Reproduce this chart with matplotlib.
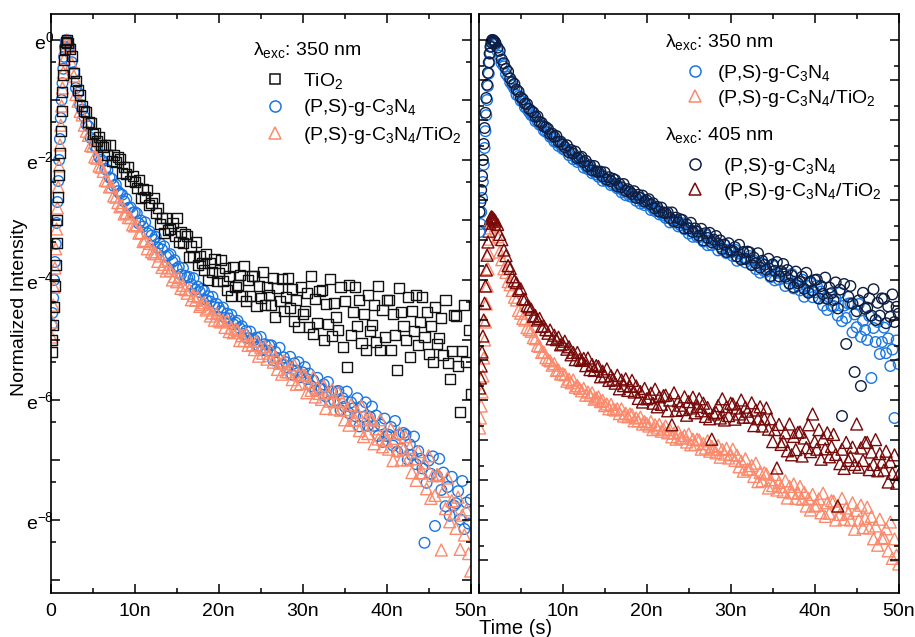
import numpy as np
import matplotlib
matplotlib.use('Agg')
import matplotlib.pyplot as plt
from matplotlib.lines import Line2D
from matplotlib.ticker import NullFormatter

plt.rcParams['font.family'] = ['Liberation Sans', 'DejaVu Sans']
plt.rcParams['mathtext.default'] = 'regular'

# time bins in ns: 0.1 ns over the rise, 0.25 ns afterwards
time_ns = np.round(np.concatenate([np.arange(1, 21) * 0.1,
                                   2.0 + np.arange(1, 193) * 0.25]), 2)

# values below are ln(normalized intensity)
# ---- left panel, lambda_exc = 350 nm
tio2_350 = [
    -5.2, -5.0, -4.75, -4.45, -4.1, -3.75, -3.38, -3.0, -2.62, -2.25,
    -1.88, -1.52, -1.18, -0.86, -0.58, -0.34, -0.15, -0.04, 0.0, -0.05,
    -0.15, -0.26, -0.55, -0.68, -0.84, -0.91, -1.10, -1.18,
    -1.20, -1.36, -1.39, -1.56, -1.55, -1.68, -1.62, -1.75,
    -1.78, -1.75, -1.91, -1.75, -2.02, -1.91, -2.04, -1.95,
    -1.99, -2.21, -2.12, -2.24, -2.11, -2.35, -2.27, -2.36,
    -2.47, -2.33, -2.63, -2.48, -2.61, -2.50, -2.75, -2.71,
    -2.63, -2.88, -2.80, -3.07, -2.97, -3.21, -2.97, -3.16,
    -3.15, -3.05, -3.27, -2.97, -3.36, -3.20, -3.39, -3.24,
    -3.27, -3.62, -3.44, -3.61, -3.37, -3.75, -3.60, -3.72,
    -3.84, -3.57, -4.00, -3.71, -3.87, -3.65, -4.01, -3.88,
    -3.66, -4.01, -3.80, -4.17, -3.93, -4.26, -3.79, -4.11,
    -4.08, -3.91, -4.26, -3.76, -4.35, -4.00, -4.26, -3.94,
    -3.94, -4.44, -4.10, -4.30, -3.86, -4.42, -4.11, -4.25,
    -4.41, -3.97, -4.61, -4.13, -4.35, -3.99, -4.52, -4.29,
    -3.97, -4.46, -4.15, -4.68, -4.33, -4.78, -4.11, -4.56,
    -4.51, -4.22, -4.78, -3.94, -4.90, -4.31, -4.72, -4.18,
    -4.16, -5.00, -4.40, -4.74, -3.98, -4.93, -4.39, -4.61,
    -4.84, -4.12, -5.12, -4.35, -5.45, -4.09, -4.92, -4.54,
    -4.11, -4.77, -4.34, -5.05, -4.57, -5.17, -4.25, -4.85,
    -4.75, -4.42, -5.04, -4.10, -5.16, -4.50, -4.95, -4.34,
    -4.34, -5.17, -4.57, -4.91, -5.5, -4.14, -4.54, -4.77,
    -5.0, -4.28, -5.28, -4.52, -4.85, -4.25, -5.08, -4.70,
    -4.29, -4.95, -4.53, -5.24, -4.76, -5.37, -4.45, -5.06,
    -4.96, -4.64, -5.25, -4.33, -5.38, -5.65, -5.19, -4.59,
    -4.6, -5.43, -6.2, -5.19, -4.42, -5.37, -4.83, -5.9,
]
psgcn_350_left = [
    -4.75, -4.55, -4.3, -4.0, -3.7, -3.4, -3.05, -2.7, -2.35, -2.0,
    -1.65, -1.3, -1.0, -0.72, -0.48, -0.28, -0.12, -0.03, 0.0, -0.04,
    -0.11, -0.37, -0.54, -0.80, -0.88, -1.08, -1.16, -1.28,
    -1.41, -1.44, -1.63, -1.66, -1.77, -1.80, -1.95, -2.0,
    -2.02, -2.15, -2.17, -2.29, -2.31, -2.43, -2.41, -2.52,
    -2.56, -2.58, -2.69, -2.65, -2.80, -2.79, -2.88, -2.87,
    -2.89, -3.06, -3.01, -3.11, -3.04, -3.22, -3.19, -3.26,
    -3.33, -3.28, -3.46, -3.39, -3.49, -3.44, -3.61, -3.59,
    -3.57, -3.70, -3.67, -3.81, -3.78, -3.91, -3.80, -3.93,
    -3.96, -3.95, -4.07, -3.97, -4.16, -4.11, -4.20, -4.15,
    -4.18, -4.33, -4.27, -4.36, -4.28, -4.45, -4.40, -4.46,
    -4.52, -4.46, -4.63, -4.56, -4.64, -4.58, -4.74, -4.71,
    -4.68, -4.80, -4.77, -4.90, -4.85, -4.97, -4.86, -4.98,
    -5.0, -4.96, -5.10, -4.95, -5.17, -5.07, -5.18, -5.09,
    -5.09, -5.34, -5.20, -5.31, -5.13, -5.41, -5.29, -5.37,
    -5.46, -5.28, -5.58, -5.39, -5.51, -5.37, -5.62, -5.54,
    -5.45, -5.65, -5.56, -5.77, -5.67, -5.85, -5.63, -5.81,
    -5.81, -5.74, -5.94, -5.70, -6.02, -5.86, -6.01, -5.86,
    -5.85, -6.17, -5.97, -6.11, -5.86, -6.22, -6.04, -6.14,
    -6.27, -5.97, -6.44, -6.11, -6.28, -6.04, -6.43, -6.28,
    -6.11, -6.43, -6.26, -6.60, -6.41, -6.70, -6.31, -6.60,
    -6.58, -6.45, -6.76, -6.35, -6.86, -6.58, -6.81, -6.55,
    -6.58, -6.99, -6.74, -6.92, -6.61, -7.07, -6.85, -6.98,
    -7.14, -8.38, -7.38, -7.01, -7.23, -6.94, -8.1, -7.27,
    -6.98, -7.50, -7.21, -7.77, -7.45, -7.93, -7.28, -7.76,
    -7.72, -7.52, -7.99, -7.35, -8.15, -7.71, -8.06, -7.66,
]
psgcn_tio2_350_left = [
    -4.95, -4.7, -4.42, -4.12, -3.8, -3.48, -3.15, -2.8, -2.45, -2.1,
    -1.75, -1.42, -1.1, -0.8, -0.54, -0.32, -0.14, -0.04, 0.0, -0.05,
    -0.11, -0.39, -0.60, -0.91, -1.02, -1.19, -1.25, -1.42,
    -1.52, -1.59, -1.76, -1.77, -1.95, -1.97, -2.10, -2.12,
    -2.19, -2.34, -2.35, -2.45, -2.44, -2.60, -2.62, -2.71,
    -2.78, -2.76, -2.90, -2.88, -2.96, -2.96, -3.08, -3.10,
    -3.08, -3.22, -3.21, -3.36, -3.34, -3.48, -3.39, -3.53,
    -3.56, -3.56, -3.69, -3.60, -3.79, -3.74, -3.85, -3.80,
    -3.84, -4.00, -3.94, -4.03, -3.96, -4.14, -4.09, -4.16,
    -4.22, -4.16, -4.33, -4.26, -4.34, -4.28, -4.44, -4.41,
    -4.38, -4.50, -4.47, -4.60, -4.55, -4.67, -4.56, -4.68,
    -4.70, -4.67, -4.79, -4.68, -4.86, -4.80, -4.88, -4.82,
    -4.84, -5.01, -4.93, -5.01, -4.90, -5.09, -5.02, -5.08,
    -5.16, -5.02, -5.27, -5.12, -5.22, -5.11, -5.32, -5.26,
    -5.17, -5.37, -5.28, -5.49, -5.39, -5.57, -5.35, -5.53,
    -5.53, -5.46, -5.66, -5.42, -5.74, -5.58, -5.73, -5.58,
    -5.59, -5.88, -5.71, -5.84, -5.62, -5.95, -5.80, -5.89,
    -5.99, -5.76, -6.14, -5.88, -6.02, -5.83, -6.15, -6.03,
    -5.88, -6.17, -6.02, -6.33, -6.16, -6.42, -6.08, -6.34,
    -6.33, -6.20, -6.51, -6.10, -6.61, -6.33, -6.56, -6.30,
    -6.33, -6.73, -6.48, -6.65, -6.33, -6.78, -6.56, -6.68,
    -6.82, -6.48, -7.01, -6.64, -6.84, -6.55, -7.00, -6.82,
    -6.61, -7.00, -6.79, -7.21, -6.98, -7.34, -6.86, -7.22,
    -7.21, -7.05, -7.48, -6.93, -7.64, -7.26, -7.59, -7.24,
    -7.26, -8.5, -7.52, -7.81, -7.3, -8.03, -7.68, -7.89,
    -8.14, -7.62, -8.49, -7.92, -8.25, -7.83, -8.56, -8.85,
]

# ---- right panel
psgcn_350_right = [
    -4.8, -4.6, -4.3, -3.95, -3.55, -3.12, -2.7, -2.28, -1.88, -1.5,
    -1.15, -0.84, -0.56, -0.33, -0.16, -0.05, 0.0, -0.02, -0.05, -0.12,
    -0.28, -0.39, -0.59, -0.66, -0.85, -0.92, -1.06, -1.13,
    -1.22, -1.37, -1.40, -1.52, -1.54, -1.68, -1.72, -1.80,
    -1.88, -1.90, -2.03, -2.03, -2.12, -2.14, -2.26, -2.30,
    -2.31, -2.42, -2.43, -2.54, -2.55, -2.65, -2.62, -2.72,
    -2.75, -2.76, -2.88, -2.81, -2.98, -2.94, -3.05, -3.01,
    -3.05, -3.19, -3.15, -3.23, -3.17, -3.33, -3.29, -3.36,
    -3.42, -3.36, -3.52, -3.46, -3.53, -3.49, -3.63, -3.61,
    -3.59, -3.71, -3.69, -3.81, -3.77, -3.88, -3.80, -3.91,
    -3.92, -3.91, -4.02, -3.93, -4.09, -4.04, -4.13, -4.08,
    -4.11, -4.25, -4.21, -4.28, -4.21, -4.36, -4.33, -4.39,
    -4.45, -4.39, -4.56, -4.48, -4.56, -4.50, -4.66, -4.63,
    -4.58, -4.73, -4.68, -4.84, -4.78, -4.92, -4.78, -4.92,
    -4.93, -4.89, -5.04, -4.87, -5.13, -5.01, -5.13, -5.03,
    -5.06, -5.26, -5.16, -5.25, -5.11, -5.33, -5.24, -5.31,
    -5.40, -5.24, -5.52, -5.34, -5.46, -5.32, -5.56, -5.49,
    -5.40, -5.61, -5.51, -5.73, -5.63, -5.82, -5.59, -5.78,
    -5.79, -5.70, -5.93, -5.64, -6.01, -5.82, -5.99, -5.81,
    -5.83, -6.15, -5.96, -6.10, -5.85, -6.21, -6.04, -6.14,
    -6.26, -5.99, -6.42, -6.14, -6.29, -6.08, -6.43, -6.31,
    -6.14, -6.47, -6.29, -6.64, -6.45, -6.75, -6.35, -6.65,
    -6.65, -6.47, -6.89, -6.32, -7.03, -6.64, -6.95, -6.59,
    -6.58, -7.31, -6.86, -7.18, -6.60, -7.42, -7.02, -7.25,
    -7.50, -6.90, -8.45, -7.20, -7.55, -7.05, -7.85, -7.55,
    -7.19, -7.83, -7.46, -8.15, -7.74, -9.45, -7.51, -8.10,
]
psgcn_tio2_350_right = [
    -9.7, -9.45, -9.15, -8.8, -8.4, -7.95, -7.5, -7.05, -6.6, -6.15,
    -5.72, -5.33, -4.98, -4.7, -4.52, -4.45, -4.47, -4.52, -4.58, -4.65,
    -4.92, -5.30, -5.49, -5.72, -5.81, -6.04, -6.12, -6.26,
    -6.43, -6.50, -6.76, -6.83, -6.96, -7.00, -7.19, -7.24,
    -7.28, -7.44, -7.47, -7.64, -7.66, -7.81, -7.80, -7.94,
    -7.99, -8.02, -8.13, -8.09, -8.26, -8.25, -8.35, -8.34,
    -8.37, -8.53, -8.48, -8.57, -8.50, -8.68, -8.64, -8.71,
    -8.77, -8.71, -8.88, -8.80, -8.88, -8.82, -8.98, -8.95,
    -8.92, -9.04, -9.01, -9.14, -9.10, -9.22, -9.11, -9.23,
    -9.25, -9.22, -9.34, -9.22, -9.40, -9.33, -9.42, -9.35,
    -9.37, -9.52, -9.45, -9.52, -9.43, -9.60, -9.54, -9.59,
    -9.65, -9.54, -9.74, -9.62, -9.70, -9.61, -9.78, -9.73,
    -9.65, -9.82, -9.74, -9.92, -9.83, -9.98, -9.80, -9.95,
    -9.95, -9.89, -10.05, -9.85, -10.12, -9.98, -10.11, -9.98,
    -10.0, -10.23, -10.09, -10.20, -10.02, -10.28, -10.16, -10.23,
    -10.32, -10.14, -10.43, -10.24, -10.35, -10.21, -10.45, -10.37,
    -10.23, -10.51, -10.38, -10.67, -10.53, -10.78, -10.47, -10.73,
    -10.73, -10.64, -10.91, -10.58, -11.04, -10.81, -11.02, -10.82,
    -10.85, -11.20, -10.99, -11.14, -10.86, -11.25, -11.06, -11.17,
    -11.29, -11.02, -11.45, -11.16, -11.32, -11.10, -11.46, -11.33,
    -11.16, -11.48, -11.31, -11.65, -11.46, -11.75, -11.36, -11.65,
    -11.63, -11.47, -11.82, -11.33, -11.91, -11.57, -11.83, -11.52,
    -11.53, -12.0, -11.67, -11.86, -11.46, -11.98, -11.70, -11.83,
    -12.0, -11.57, -12.23, -11.76, -12.0, -11.63, -12.19, -11.96,
    -11.68, -12.20, -11.91, -12.47, -12.15, -12.63, -11.98, -12.46,
    -12.44, -12.22, -12.77, -12.05, -12.96, -12.47, -12.88, -13.1,
]
psgcn_405_right = [
    -4.3, -4.05, -3.75, -3.4, -3.0, -2.6, -2.2, -1.82, -1.45, -1.12,
    -0.82, -0.56, -0.34, -0.17, -0.06, 0.0, -0.01, -0.03, -0.05, -0.08,
    -0.19, -0.27, -0.49, -0.58, -0.72, -0.79, -0.96, -1.05,
    -1.10, -1.24, -1.29, -1.43, -1.48, -1.59, -1.60, -1.72,
    -1.77, -1.81, -1.92, -1.91, -2.05, -2.07, -2.16, -2.18,
    -2.22, -2.35, -2.34, -2.42, -2.40, -2.54, -2.54, -2.61,
    -2.68, -2.63, -2.81, -2.75, -2.84, -2.79, -2.96, -2.94,
    -2.92, -3.05, -3.02, -3.16, -3.13, -3.26, -3.15, -3.28,
    -3.30, -3.29, -3.41, -3.31, -3.49, -3.43, -3.53, -3.47,
    -3.50, -3.66, -3.60, -3.68, -3.60, -3.77, -3.73, -3.79,
    -3.85, -3.78, -3.95, -3.87, -3.95, -3.89, -4.04, -4.01,
    -3.98, -4.11, -4.08, -4.21, -4.17, -4.29, -4.19, -4.31,
    -4.33, -4.31, -4.45, -4.31, -4.53, -4.44, -4.56, -4.48,
    -4.50, -4.71, -4.61, -4.71, -4.57, -4.80, -4.71, -4.79,
    -4.89, -4.72, -5.01, -4.83, -4.95, -4.82, -5.06, -4.99,
    -4.90, -5.10, -5.01, -5.22, -5.12, -5.30, -5.08, -5.26,
    -5.27, -5.18, -5.41, -5.12, -5.49, -5.30, -5.47, -5.29,
    -5.31, -5.63, -5.44, -5.58, -5.33, -5.69, -5.52, -5.62,
    -5.74, -5.47, -5.90, -5.61, -5.77, -5.55, -5.91, -5.78,
    -5.60, -5.92, -5.75, -6.09, -5.89, -6.18, -5.79, -6.08,
    -6.05, -5.92, -6.22, -5.82, -6.32, -6.04, -6.26, -6.0,
    -5.99, -6.46, -6.15, -6.35, -5.94, -6.47, -6.19, -6.33,
    -6.50, -6.06, -6.71, -6.24, -9.4, -6.10, -7.6, -6.42,
    -6.15, -6.59, -8.3, -6.78, -6.51, -8.65, -6.32, -6.72,
    -6.69, -6.46, -6.89, -6.23, -7.0, -6.57, -6.89, -6.46,
    -6.47, -7.08, -6.66, -6.92, -6.36, -7.05, -6.67, -6.84,
]
psgcn_tio2_405_right = [
    -8.7, -8.45, -8.15, -7.8, -7.4, -7.0, -6.58, -6.15, -5.75, -5.38,
    -5.05, -4.78, -4.58, -4.46, -4.42, -4.43, -4.45, -4.48, -4.5, -4.53,
    -4.61, -4.86, -4.99, -5.25, -5.39, -5.64, -5.71, -5.92,
    -6.02, -6.07, -6.26, -6.22, -6.47, -6.48, -6.64, -6.67,
    -6.73, -6.91, -6.89, -7.0, -6.96, -7.16, -7.15, -7.24,
    -7.33, -7.25, -7.47, -7.38, -7.49, -7.43, -7.62, -7.60,
    -7.53, -7.73, -7.67, -7.87, -7.81, -7.99, -7.81, -7.99,
    -8.01, -7.96, -8.14, -7.95, -8.24, -8.11, -8.26, -8.14,
    -8.16, -8.42, -8.28, -8.40, -8.22, -8.51, -8.39, -8.48,
    -8.58, -8.38, -8.72, -8.50, -8.64, -8.47, -8.76, -8.66,
    -8.51, -8.80, -8.65, -8.96, -8.79, -9.05, -8.71, -8.97,
    -8.94, -8.83, -9.08, -8.73, -9.17, -8.92, -9.11, -8.89,
    -8.88, -9.27, -9.0, -9.62, -8.82, -9.26, -9.02, -9.13,
    -9.24, -8.92, -9.38, -9.04, -9.20, -8.93, -9.32, -9.16,
    -8.97, -9.27, -9.08, -9.41, -9.19, -9.47, -9.98, -9.35,
    -9.31, -9.14, -9.45, -8.97, -9.50, -9.17, -9.39, -9.08,
    -9.10, -9.48, -9.20, -9.35, -9.0, -9.43, -9.18, -9.28,
    -9.43, -9.07, -9.64, -9.25, -9.47, -9.17, -9.65, -9.47,
    -9.20, -9.73, -9.47, -10.04, -9.74, -10.7, -9.61, -10.11,
    -10.04, -9.82, -10.27, -9.60, -10.37, -9.91, -10.24, -9.81,
    -9.80, -10.40, -9.95, -10.19, -9.62, -10.29, -9.35, -10.04,
    -10.23, -9.74, -10.48, -9.97, -10.22, -9.82, -10.42, -10.16,
    -9.86, -10.36, -11.65, -10.59, -10.23, -10.71, -10.06, -10.51,
    -10.42, -10.18, -10.61, -9.6, -10.68, -10.20, -10.51, -10.06,
    -10.06, -10.74, -10.30, -10.61, -9.99, -10.77, -10.34, -10.55,
    -10.75, -10.28, -11.05, -10.54, -10.83, -10.37, -11.08, -10.86,
]

x_ticks = [0, 10, 20, 30, 40, 50]
x_labels_left = ['0', '10n', '20n', '30n', '40n', '50n']
x_labels_right = ['', '10n', '20n', '30n', '40n', '50n']

c_black = '#111111'
c_blue = '#1a76e2'
c_salmon = '#fb8a6c'
c_navy = '#0e1e42'
c_maroon = '#780a0a'

W, H = 915, 637
fig = plt.figure(figsize=(W / 100, H / 100), dpi=100)
ax1 = fig.add_axes([50.7 / W, 1 - 593 / H, 420 / W, 579 / H])
ax2 = fig.add_axes([478.7 / W, 1 - 593 / H, 420 / W, 579 / H])

def draw(ax, y, marker, color, s):
    ax.scatter(time_ns, np.exp(y), marker=marker, s=s, facecolors='none',
               edgecolors=color, linewidths=1.0)

draw(ax1, psgcn_350_left, 'o', c_blue, 58)
draw(ax1, psgcn_tio2_350_left, '^', c_salmon, 74)
draw(ax1, tio2_350, 's', c_black, 52)

draw(ax2, psgcn_tio2_350_right, '^', c_salmon, 74)
draw(ax2, psgcn_tio2_405_right, '^', c_maroon, 74)
draw(ax2, psgcn_350_right, 'o', c_blue, 58)
draw(ax2, psgcn_405_right, 'o', c_navy, 58)

for ax, xl in ((ax1, x_labels_left), (ax2, x_labels_right)):
    ax.set_yscale('log', base=np.e)
    ax.set_xlim(0, 50)
    ax.set_xticks(x_ticks)
    ax.set_xticklabels(xl)
    ax.set_xticks([5, 15, 25, 35, 45], minor=True)
    ax.tick_params(which='both', direction='in', top=True, right=True)
    ax.tick_params(which='major', length=6.3, width=1.1, labelsize=14)
    ax.tick_params(which='minor', length=3.7, width=1.1)
    ax.tick_params(axis='x', pad=7)
    for sp in ax.spines.values():
        sp.set_linewidth(1.2)

# left y axis: e^0 ... e^-8
ax1.set_ylim(np.exp(-9.217), np.exp(0.433))
left_major = np.arange(0, -10, -1)
ax1.set_yticks(np.exp(left_major))
ax1.set_yticklabels(['e$^{%d}$' % n if n % 2 == 0 else '' for n in left_major])
ax1.set_yticks(np.exp(left_major[:-1] - 0.37), minor=True)
ax1.yaxis.set_minor_formatter(NullFormatter())
ax1.tick_params(axis='y', pad=-2.5)

# right y axis: unlabeled
ax2.set_ylim(np.exp(-13.825), np.exp(0.65))
right_major = np.arange(0, -14, -1)
ax2.set_yticks(np.exp(right_major))
ax2.set_yticks(np.exp(right_major[:-1] - 0.65), minor=True)
ax2.yaxis.set_minor_formatter(NullFormatter())
ax2.tick_params(axis='y', labelleft=False)

# legends
def handle(marker, color, ms):
    return Line2D([], [], ls='none', marker=marker, ms=ms, mfc='none', mec=color, mew=1.1)

def axfrac(px, py, x0):
    return ((px - x0) / 420, (593 - py) / 579)

ax1.text(*axfrac(253, 55, 50.7), '\u03bb$_{exc}$: 350 nm', transform=ax1.transAxes,
         fontsize=14, va='baseline')
ax1.legend([handle('s', c_black, 7), handle('o', c_blue, 8), handle('^', c_salmon, 9)],
           ['TiO$_2$', '(P,S)-g-C$_3$N$_4$', '(P,S)-g-C$_3$N$_4$/TiO$_2$'],
           loc='center left', bbox_to_anchor=axfrac(265, 108.5, 50.7), frameon=False,
           borderpad=0, borderaxespad=0, handlelength=1.03, handletextpad=0.93,
           labelspacing=0.33, fontsize=14, numpoints=1)

ax2.text(*axfrac(665, 47, 478.7), '\u03bb$_{exc}$: 350 nm', transform=ax2.transAxes,
         fontsize=14, va='baseline')
ax2.text(*axfrac(665, 140, 478.7), '\u03bb$_{exc}$: 405 nm', transform=ax2.transAxes,
         fontsize=14, va='baseline')
leg1 = ax2.legend([handle('o', c_blue, 8), handle('^', c_salmon, 9)],
                  ['(P,S)-g-C$_3$N$_4$', '(P,S)-g-C$_3$N$_4$/TiO$_2$'],
                  loc='center left', bbox_to_anchor=axfrac(685, 86, 478.7), frameon=False,
                  borderpad=0, borderaxespad=0, handlelength=1.03, handletextpad=0.62,
                  labelspacing=0.23, fontsize=14, numpoints=1)
ax2.add_artist(leg1)
ax2.legend([handle('o', c_navy, 8), handle('^', c_maroon, 9)],
           ['(P,S)-g-C$_3$N$_4$', '(P,S)-g-C$_3$N$_4$/TiO$_2$'],
           loc='center left', bbox_to_anchor=axfrac(685, 179, 478.7), frameon=False,
           borderpad=0, borderaxespad=0, handlelength=1.03, handletextpad=0.93,
           labelspacing=0.23, fontsize=14, numpoints=1)

fig.text(20 / W, 1 - 307 / H, 'Normalized Intensity', rotation=90, ha='center',
         va='center', fontsize=14)
fig.text(516 / W, 1 - 629 / H, 'Time (s)', ha='center', va='center', fontsize=14.5)

fig.savefig('out.png', dpi=100)
